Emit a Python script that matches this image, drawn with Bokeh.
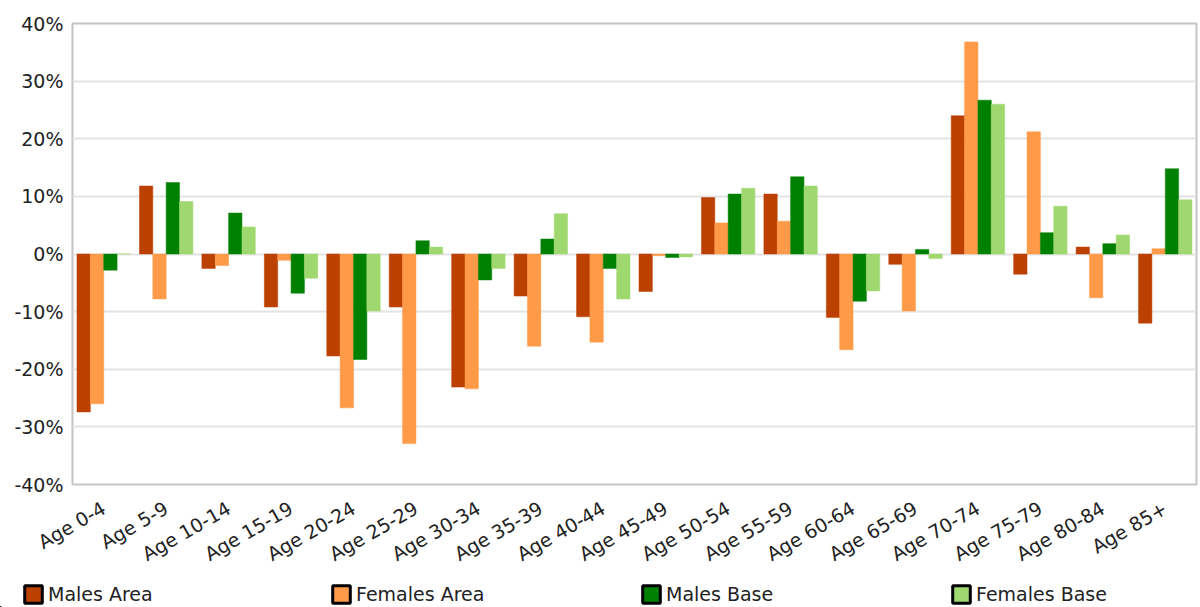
import math
from bokeh.plotting import figure
from bokeh.models import (FactorRange, Range1d, Legend, LegendItem,
                          PrintfTickFormatter, FixedTicker, ColumnDataSource)
from bokeh.transform import dodge
from bokeh.embed import file_html
from bokeh.resources import INLINE

categories = ["Age 0-4", "Age 5-9", "Age 10-14", "Age 15-19", "Age 20-24",
              "Age 25-29", "Age 30-34", "Age 35-39", "Age 40-44", "Age 45-49",
              "Age 50-54", "Age 55-59", "Age 60-64", "Age 65-69", "Age 70-74",
              "Age 75-79", "Age 80-84", "Age 85+"]

males_area = [-27.4, 11.8, -2.5, -9.2, -17.7, -9.2, -23.1, -7.3, -10.9, -6.5,
              9.8, 10.4, -11.0, -1.8, 24.0, -3.5, 1.2, -12.0]
females_area = [-26.0, -7.8, -2.0, -1.1, -26.7, -32.9, -23.4, -16.0, -15.3, -0.3,
                5.4, 5.7, -16.6, -9.9, 36.8, 21.2, -7.6, 0.9]
males_base = [-2.8, 12.4, 7.1, -6.8, -18.3, 2.3, -4.5, 2.6, -2.5, -0.6,
              10.4, 13.4, -8.2, 0.8, 26.7, 3.7, 1.8, 14.8]
females_base = [0.0, 9.1, 4.7, -4.2, -9.9, 1.2, -2.5, 7.0, -7.8, -0.5,
                11.4, 11.8, -6.4, -0.8, 26.0, 8.3, 3.3, 9.4]

series_names = ["Males Area", "Females Area", "Males Base", "Females Base"]
series_keys = ["males_area", "females_area", "males_base", "females_base"]
colors = ["#bc4000", "#ff9a48", "#008000", "#a0d870"]
y_ticks = [-40, -30, -20, -10, 0, 10, 20, 30, 40]

source = ColumnDataSource(dict(cat=categories, males_area=males_area,
                               females_area=females_area, males_base=males_base,
                               females_base=females_base))

FONT = "DejaVu Sans"
TEXT_COLOR = "#222222"
FS = "19px"
W = 1200
MAIN_H = 577
LEG_H = 30

p = figure(width=W, height=MAIN_H, x_range=FactorRange(*categories, range_padding=0),
           y_range=Range1d(-40, 40), output_backend="svg", toolbar_location=None,
           min_border_left=72, min_border_right=4, min_border_top=23,
           min_border_bottom=MAIN_H - 487)

bar_w = 0.214
offsets = [-1.5 * bar_w, -0.5 * bar_w, 0.5 * bar_w, 1.5 * bar_w]
for key, col, off in zip(series_keys, colors, offsets):
    p.vbar(x=dodge("cat", off, range=p.x_range), top=key, bottom=0, width=bar_w,
           source=source, fill_color=col, line_color=col, line_width=0.5)

p.outline_line_color = "#c4c4c4"
p.outline_line_width = 2
p.xgrid.grid_line_color = None
p.ygrid.grid_line_color = "#e4e4e4"
p.ygrid.grid_line_width = 2
p.ygrid.ticker = FixedTicker(ticks=y_ticks)

p.yaxis.ticker = FixedTicker(ticks=y_ticks)
p.yaxis.formatter = PrintfTickFormatter(format="%d%%")
for ax in (p.xaxis[0], p.yaxis[0]):
    ax.axis_line_color = None
    ax.major_tick_line_color = None
    ax.minor_tick_line_color = None
    ax.major_tick_out = 0
    ax.major_tick_in = 0
    ax.major_label_text_font = FONT
    ax.major_label_text_font_size = FS
    ax.major_label_text_color = TEXT_COLOR
p.yaxis.major_label_standoff = 9
p.xaxis.major_label_orientation = math.pi / 6
p.xaxis.major_label_standoff = 22

# legend strip, rendered as a separate root directly below the chart
lf = figure(width=W, height=LEG_H, x_range=Range1d(0, 1), y_range=Range1d(0, 1),
            output_backend="svg", toolbar_location=None, x_axis_type=None,
            y_axis_type=None, min_border_left=0, min_border_right=0,
            min_border_top=0, min_border_bottom=0)
lf.outline_line_color = None
lf.grid.grid_line_color = None

legend_x = [22, 330, 640, 950]
for name, col, lx in zip(series_names, colors, legend_x):
    # key swatch renderer: its single bar lies outside the strip's visible range
    swatch = lf.vbar(x=[-5.0], top=[-5.0], bottom=[-6.0], width=0.1,
                     fill_color=col, line_color="black", line_width=3)
    leg = Legend(items=[LegendItem(label=name, renderers=[swatch])],
                 location=(lx, 2), orientation="horizontal", padding=0,
                 margin=0, spacing=0, glyph_width=22, glyph_height=22,
                 label_height=22, label_standoff=4, label_text_font=FONT,
                 label_text_font_size=FS, label_text_color=TEXT_COLOR,
                 border_line_color=None, background_fill_alpha=0)
    lf.add_layout(leg)

open("out.html", "w").write(file_html([p, lf], INLINE))
